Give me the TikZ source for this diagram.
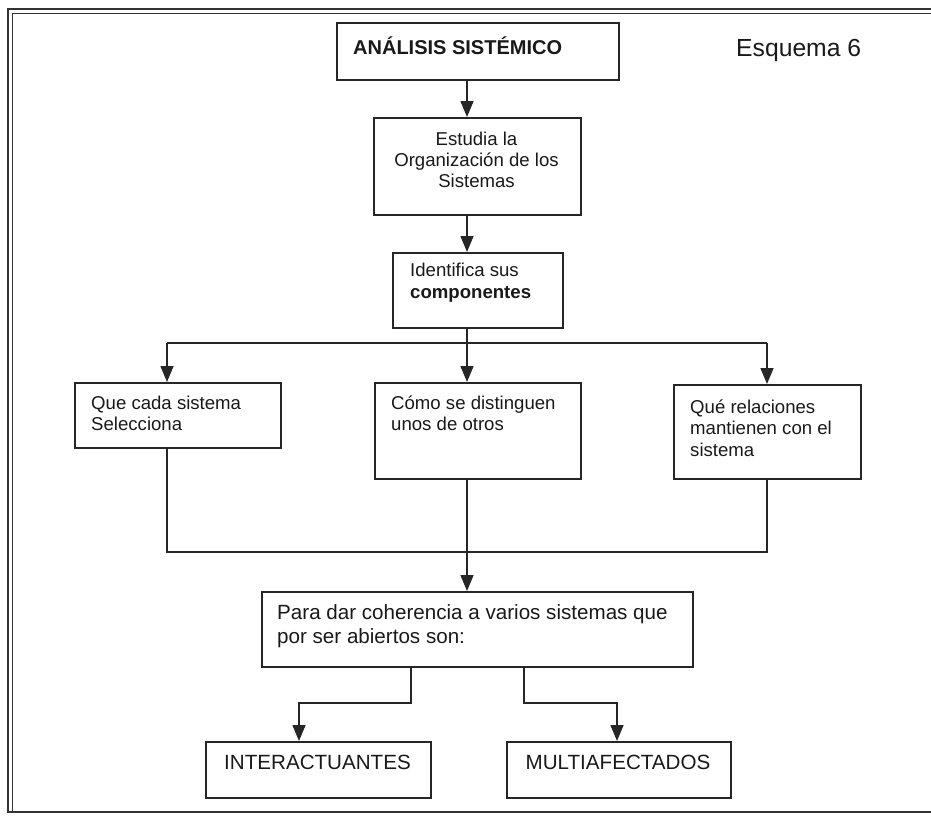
\documentclass[tikz,border=0pt]{standalone}
\usepackage{fontspec}
\setmainfont{Liberation Sans}
\usetikzlibrary{arrows.meta}
\begin{document}
\begin{tikzpicture}[x=1pt,y=-1pt,
  box/.style={draw=black!85, line width=1.8pt, rectangle, inner sep=0pt, anchor=north west},
  txt/.style={inner sep=0pt, align=left, text=black!90, font=\fontsize{18.6}{21.5}\selectfont},
  txtbig/.style={txt, font=\fontsize{20.6}{23.3}\selectfont},
  link/.style={draw=black!85, line width=1.5pt, line join=miter},
  arr/.style={link, -{Triangle[length=16pt,width=13pt]}},
  frameline/.style={draw=black!80, line width=1.6pt}]
\useasboundingbox (0,0) rectangle (931,815);

% double border
\draw[frameline] (931,9) -- (8,9) -- (8,812) -- (931,812);
\draw[frameline] (931,13.5) -- (12.5,13.5) -- (12.5,812);

% boxes
\node[box, minimum width=282, minimum height=57] (b1) at (336,22) {};
\node[box, minimum width=207, minimum height=97] (b2) at (373,117) {};
\node[box, minimum width=170, minimum height=75] (b3) at (392,252) {};
\node[box, minimum width=206, minimum height=65] (b4) at (74,382) {};
\node[box, minimum width=206, minimum height=96] (b5) at (374,382) {};
\node[box, minimum width=187, minimum height=94] (b6) at (673,384) {};
\node[box, minimum width=431, minimum height=75] (b7) at (261,591) {};
\node[box, minimum width=225, minimum height=56] (b8) at (205,741) {};
\node[box, minimum width=224, minimum height=56] (b9) at (506,741) {};

% texts
\node[txt, anchor=west, font=\bfseries\fontsize{20}{23}\selectfont] (t1) at (353,46) {ANÁLISIS SISTÉMICO};
\node[txt, anchor=west, font=\fontsize{24.7}{28}\selectfont] (esq) at (736,50) {Esquema 6};
\node[txt, align=center, font=\fontsize{18.6}{21}\selectfont] (t2) at (476.5,159.7) {Estudia la\\Organización de los\\Sistemas};
\node[txt, anchor=west] (t3) at (410,282.5) {Identifica sus\\\textbf{componentes}};
\node[txt, anchor=west] (t4) at (91,413.2) {Que cada sistema\\Selecciona};
\node[txt, anchor=west] (t5) at (391,413.2) {Cómo se distinguen\\unos de otros};
\node[txt, anchor=west] (t6) at (690,428.2) {Qué relaciones\\mantienen con el\\sistema};
\node[txtbig, anchor=west] (t7) at (277,626.2) {Para dar coherencia a varios sistemas que\\por ser abiertos son:};
\node[txtbig] (t8) at (317.5,762) {INTERACTUANTES};
\node[txtbig] (t9) at (618,762) {MULTIAFECTADOS};

% junction points
\coordinate (hub) at (467,343);
\coordinate (mL) at (167,552);
\coordinate (mR) at (767,552);
\coordinate (kL) at (411,703);
\coordinate (kR) at (524,703);
\coordinate (eL) at (299,703);
\coordinate (eR) at (617,703);

% connectors
\draw[arr] (b1.south -| hub) -- (b2.north -| hub);
\draw[arr] (b2.south -| hub) -- (b3.north -| hub);
\draw[link] (b3.south -| hub) -- (hub);
\draw[link] (hub -| mL) -- (hub -| mR);
\draw[arr] (hub -| mL) -- (b4.north -| mL);
\draw[arr] (hub) -- (b5.north -| hub);
\draw[arr] (hub -| mR) -- (b6.north -| mR);
\draw[link] (b4.south -| mL) -- (mL) -- (mR) -- (b6.south -| mR);
\draw[arr] (b5.south -| hub) -- (b7.north -| hub);
\draw[arr] (b7.south -| kL) -- (kL) -- (eL) -- (b8.north -| eL);
\draw[arr] (b7.south -| kR) -- (kR) -- (eR) -- (b9.north -| eR);
\end{tikzpicture}
\end{document}
